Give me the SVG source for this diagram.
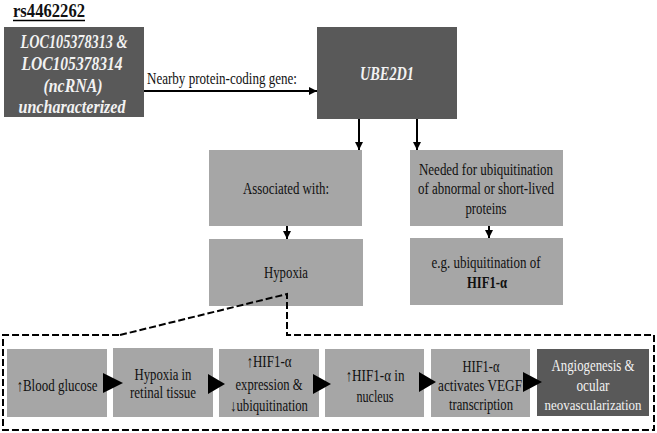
<svg xmlns="http://www.w3.org/2000/svg" width="657" height="433" viewBox="0 0 657 433">
<defs>
<style>
.dark{fill:#595959}
.light{fill:#a6a6a6}
.t{font-family:"Liberation Serif","Times New Roman",serif;font-size:16.5px;fill:#111;text-anchor:middle}
.w{fill:#f2f2f2}
.bi{font-weight:bold;font-style:italic;font-size:18px}
.b{font-weight:bold}
.ln{stroke:#000;stroke-width:2;fill:none}
.dash{stroke:#000;stroke-width:2;fill:none;stroke-dasharray:7 3}
</style>
<marker id="ah" viewBox="0 0 10 10" refX="10" refY="5" markerWidth="4" markerHeight="4" orient="auto" markerUnits="strokeWidth">
<path d="M0,0 L10,5 L0,10 Z" fill="#000"/>
</marker>
</defs>
<rect width="657" height="433" fill="#fff"/>

<g id="title">
<text x="49" y="17" class="t b" style="font-size:18px" textLength="72" lengthAdjust="spacingAndGlyphs">rs4462262</text>
<line x1="13" y1="20.5" x2="85" y2="20.5" stroke="#000" stroke-width="1.5"/>
</g>

<g id="loc">
<rect class="dark" x="4" y="27" width="140" height="90"/>
<text class="t w bi" x="74" y="48" textLength="107" lengthAdjust="spacingAndGlyphs">LOC105378313 &amp;</text>
<text class="t w bi" x="72" y="70" textLength="101" lengthAdjust="spacingAndGlyphs">LOC105378314</text>
<text class="t w bi" x="73" y="92" textLength="59" lengthAdjust="spacingAndGlyphs">(ncRNA)</text>
<text class="t w bi" x="72" y="113" textLength="107" lengthAdjust="spacingAndGlyphs">uncharacterized</text>
</g>

<g id="ube2d1">
<rect class="dark" x="317" y="27" width="140" height="92"/>
<text class="t w bi" x="387" y="80" textLength="54" lengthAdjust="spacingAndGlyphs">UBE2D1</text>
</g>

<g id="associated">
<rect class="light" x="209" y="150" width="153" height="76"/>
<text class="t" x="286" y="194" textLength="86" lengthAdjust="spacingAndGlyphs">Associated with:</text>
</g>

<g id="needed">
<rect class="light" x="410" y="150" width="153" height="76"/>
<text class="t" x="486" y="175" textLength="134" lengthAdjust="spacingAndGlyphs">Needed for ubiquitination</text>
<text class="t" x="486" y="194" textLength="136" lengthAdjust="spacingAndGlyphs">of abnormal or short-lived</text>
<text class="t" x="486" y="214" textLength="41" lengthAdjust="spacingAndGlyphs">proteins</text>
</g>

<g id="hypoxia">
<rect class="light" x="209" y="239" width="154" height="67"/>
<text class="t" x="286" y="278" textLength="44" lengthAdjust="spacingAndGlyphs">Hypoxia</text>
</g>

<g id="eg">
<rect class="light" x="410" y="238" width="153" height="67"/>
<text class="t" x="486" y="268" textLength="109" lengthAdjust="spacingAndGlyphs">e.g. ubiquitination of</text>
<text class="t b" x="487" y="288" textLength="40" lengthAdjust="spacingAndGlyphs">HIF1-α</text>
</g>

<g id="b1">
<rect class="light" x="7" y="349" width="100" height="68"/>
<text class="t" x="57" y="391" textLength="81" lengthAdjust="spacingAndGlyphs">↑Blood glucose</text>
</g>
<g id="b2">
<rect class="light" x="113" y="348" width="100" height="69"/>
<text class="t" x="163" y="380" textLength="57" lengthAdjust="spacingAndGlyphs">Hypoxia in</text>
<text class="t" x="163" y="398" textLength="66" lengthAdjust="spacingAndGlyphs">retinal tissue</text>
</g>
<g id="b3">
<rect class="light" x="219" y="349" width="100" height="68"/>
<text class="t" x="269" y="367" textLength="45" lengthAdjust="spacingAndGlyphs">↑HIF1-α</text>
<text class="t" x="269" y="390" textLength="67" lengthAdjust="spacingAndGlyphs">expression &amp;</text>
<text class="t" x="269" y="411" textLength="78" lengthAdjust="spacingAndGlyphs">↓ubiquitination</text>
</g>
<g id="b4">
<rect class="light" x="325" y="349" width="99" height="68"/>
<text class="t" x="375" y="381" textLength="59" lengthAdjust="spacingAndGlyphs">↑HIF1-α in</text>
<text class="t" x="375" y="402" textLength="37" lengthAdjust="spacingAndGlyphs">nucleus</text>
</g>
<g id="b5">
<rect class="light" x="431" y="349" width="99" height="68"/>
<text class="t" x="481" y="372" textLength="37" lengthAdjust="spacingAndGlyphs">HIF1-α</text>
<text class="t" x="480" y="391" textLength="84" lengthAdjust="spacingAndGlyphs">activates VEGF</text>
<text class="t" x="481" y="410" textLength="64" lengthAdjust="spacingAndGlyphs">transcription</text>
</g>
<g id="b6">
<rect class="dark" x="537" y="349" width="112" height="67"/>
<text class="t w" x="593" y="371" textLength="83" lengthAdjust="spacingAndGlyphs">Angiogenesis &amp;</text>
<text class="t w" x="593" y="391" textLength="33" lengthAdjust="spacingAndGlyphs">ocular</text>
<text class="t w" x="593" y="410" style="font-size:14.5px" textLength="97" lengthAdjust="spacingAndGlyphs">neovascularization</text>
</g>

<g id="connectors">
<line class="ln" x1="144" y1="91" x2="317" y2="91" marker-end="url(#ah)"/>
<text class="t" x="222" y="84" textLength="150" lengthAdjust="spacingAndGlyphs">Nearby protein-coding gene:</text>
<line class="ln" x1="359" y1="119" x2="359" y2="150" marker-end="url(#ah)"/>
<line class="ln" x1="417" y1="119" x2="417" y2="150" marker-end="url(#ah)"/>
<line class="ln" x1="287" y1="226" x2="287" y2="239" marker-end="url(#ah)"/>
<line class="ln" x1="489" y1="226" x2="489" y2="238" marker-end="url(#ah)"/>
<path class="dash" d="M120,335 L287,294 L287,335 L654,335 L654,430 L3,430 L3,335 L120,335"/>
<polygon points="103,373 123,383 103,393" fill="#000"/>
<polygon points="208,374 225,384 208,394" fill="#000"/>
<polygon points="313,374 331,384 313,394" fill="#000"/>
<polygon points="419,372 436,382 419,392" fill="#000"/>
<polygon points="523,372 542,382 523,392" fill="#000"/>
</g>
</svg>
